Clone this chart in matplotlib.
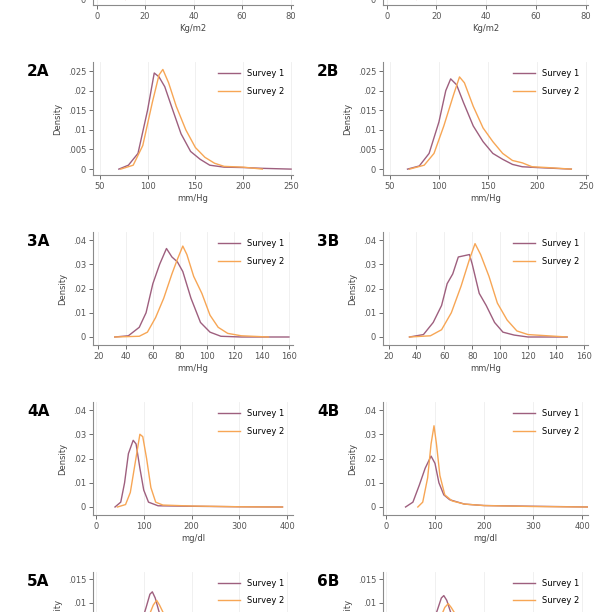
import matplotlib
matplotlib.use("Agg")
import matplotlib.pyplot as plt
from matplotlib.ticker import FixedLocator

C1 = "#9e5f7e"
C2 = "#f7a655"

panel_labels = [["1A", "1B"], ["2A", "2B"], ["3A", "3B"], ["4A", "4B"], ["5A", "6B"]]
xlabels = ["Kg/m2", "mm/Hg", "mm/Hg", "mg/dl", "mg/dl"]
xticks = [[0, 20, 40, 60, 80], [50, 100, 150, 200, 250], [20, 40, 60, 80, 100, 120, 140, 160],
          [0, 100, 200, 300, 400], [0, 100, 200, 300, 400]]
xlims = [(-1.5, 81), (43, 252), (16, 163), (-6, 412), (-6, 412)]
yticks = [[0, .02, .04, .06], [0, .005, .01, .015, .02, .025], [0, .01, .02, .03, .04],
          [0, .01, .02, .03, .04], [0, .005, .01, .015]]
yticklabels = [["0", ".02", ".04", ".06"], ["0", ".005", ".01", ".015", ".02", ".025"],
               ["0", ".01", ".02", ".03", ".04"], ["0", ".01", ".02", ".03", ".04"],
               ["0", ".005", ".01", ".015"]]
ylims = [(-0.004, 0.075), (-0.0015, 0.0273), (-0.0033, 0.0433), (-0.0033, 0.0433), (-0.0015, 0.0165)]

# density curves (x, y) per panel: [row][col] -> (survey1, survey2)
bmi_a1 = ([12, 16, 20, 24, 28, 34, 40, 50, 70], [0, .005, .04, .07, .055, .02, .005, .001, 0])
bmi_a2 = ([12, 17, 21, 25, 29, 35, 42, 52, 72], [0, .004, .035, .065, .056, .024, .006, .001, 0])
bmi_b1 = ([12, 16, 20, 24, 28, 34, 40, 50, 70], [0, .004, .035, .066, .056, .022, .006, .001, 0])
bmi_b2 = ([12, 17, 21, 25, 29, 35, 42, 52, 72], [0, .003, .03, .06, .058, .026, .007, .001, 0])

sbp_a1 = ([70, 80, 90, 100, 107, 112, 118, 125, 135, 145, 155, 165, 180, 200, 220, 250],
          [0, .001, .004, .015, .0245, .0235, .021, .016, .009, .0045, .0025, .001, .0005, .0004, .0002, 0])
sbp_a2 = ([72, 85, 95, 105, 112, 116, 122, 130, 140, 150, 160, 170, 180, 200, 220],
          [0, .001, .006, .017, .024, .0254, .022, .016, .01, .0055, .003, .0015, .0007, .0005, 0])
sbp_b1 = ([68, 80, 90, 100, 107, 112, 118, 125, 135, 145, 155, 165, 175, 185, 200, 235],
          [0, .0008, .004, .012, .02, .023, .0215, .017, .011, .007, .004, .0025, .0012, .0006, .0004, 0])
sbp_b2 = ([70, 85, 95, 105, 115, 121, 126, 135, 145, 155, 165, 175, 185, 195, 210, 235],
          [0, .001, .004, .011, .019, .0235, .022, .016, .0105, .007, .004, .0022, .0016, .0006, .0004, 0])

dbp_a1 = ([32, 42, 50, 55, 60, 65, 70, 74, 78, 82, 88, 95, 102, 110, 125, 160],
          [0, .0005, .004, .01, .022, .03, .0365, .033, .031, .027, .016, .006, .002, .0003, 0, 0])
dbp_a2 = ([32, 50, 56, 62, 68, 74, 78, 82, 85, 90, 96, 102, 108, 115, 125, 145],
          [0, .0003, .002, .008, .016, .026, .032, .0375, .034, .025, .018, .009, .004, .0015, .0005, 0])
dbp_b1 = ([35, 45, 52, 58, 62, 66, 70, 74, 78, 80, 85, 90, 96, 102, 110, 120, 148],
          [0, .001, .006, .013, .022, .026, .033, .0335, .034, .03, .018, .013, .006, .002, .0008, 0, 0])
dbp_b2 = ([35, 50, 58, 65, 72, 78, 82, 86, 92, 98, 105, 112, 120, 148],
          [0, .0005, .003, .01, .021, .032, .0385, .034, .025, .014, .007, .0025, .001, 0])

glu_a1 = ([40, 52, 60, 68, 78, 84, 92, 100, 110, 130, 200, 300, 390],
          [0, .002, .01, .022, .0275, .026, .016, .007, .002, .0005, .0003, .0001, 0])
glu_a2 = ([45, 62, 72, 82, 92, 98, 106, 115, 125, 140, 200, 300, 390],
          [0, .001, .006, .018, .03, .029, .02, .008, .002, .0008, .0004, .0001, 0])
glu_b1 = ([40, 55, 68, 80, 92, 100, 108, 118, 130, 160, 200, 300, 415],
          [0, .002, .009, .016, .021, .018, .01, .005, .003, .0012, .0006, .0003, 0])
glu_b2 = ([65, 75, 85, 92, 98, 103, 110, 120, 135, 160, 200, 300, 415],
          [0, .002, .012, .026, .0335, .026, .013, .005, .0025, .0012, .0006, .0002, 0])

r5_a1 = ([40, 70, 90, 105, 113, 118, 124, 135, 150, 180, 220, 300, 390],
         [0, .0008, .004, .009, .0118, .0123, .011, .007, .004, .0015, .0005, .0001, 0])
r5_a2 = ([45, 75, 95, 110, 120, 127, 133, 145, 160, 190, 230, 300, 390],
         [0, .0006, .003, .007, .0095, .0105, .0095, .007, .0045, .0018, .0006, .0001, 0])
r5_b1 = ([40, 70, 90, 105, 113, 118, 124, 135, 150, 180, 220, 300, 415],
         [0, .0008, .004, .0085, .011, .0115, .0105, .007, .004, .0015, .0005, .0001, 0])
r5_b2 = ([45, 75, 95, 110, 120, 127, 133, 145, 160, 190, 230, 300, 415],
         [0, .0006, .003, .0065, .009, .0098, .009, .007, .0045, .0018, .0006, .0001, 0])

curves = [[(bmi_a1, bmi_a2), (bmi_b1, bmi_b2)],
          [(sbp_a1, sbp_a2), (sbp_b1, sbp_b2)],
          [(dbp_a1, dbp_a2), (dbp_b1, dbp_b2)],
          [(glu_a1, glu_a2), (glu_b1, glu_b2)],
          [(r5_a1, r5_a2), (r5_b1, r5_b2)]]

W = H = 612
fig = plt.figure(figsize=(6.12, 6.12), dpi=100)
row_tops = [-108, 62, 232, 402, 572]
heights = [113, 113, 113, 113, 85]
col_lefts = [93, 383]
col_w = [200, 205]
gray = "#8a8a8a"

for r in range(5):
    for c in range(2):
        top = row_tops[r]
        h = heights[r]
        ax = fig.add_axes([col_lefts[c] / W, 1 - (top + h) / H, col_w[c] / W, h / H])
        s1, s2 = curves[r][c]
        ax.plot(s1[0], s1[1], color=C1, lw=1.0, label="Survey 1")
        ax.plot(s2[0], s2[1], color=C2, lw=1.0, label="Survey 2")
        ax.set_xlim(*xlims[r])
        ax.set_ylim(*ylims[r])
        ax.set_xticks(xticks[r])
        ax.set_yticks(yticks[r])
        ax.set_yticklabels(yticklabels[r])
        ax.grid(axis="x", color="#eeeeee", lw=0.6)
        ax.set_axisbelow(True)
        for s in ["top", "right"]:
            ax.spines[s].set_visible(False)
        for s in ["left", "bottom"]:
            ax.spines[s].set_color(gray)
            ax.spines[s].set_linewidth(0.8)
        ax.tick_params(labelsize=6, colors="#555555", length=3, width=0.6, pad=2)
        ax.tick_params(axis="y", labelrotation=0)
        ax.set_xlabel(xlabels[r], fontsize=6, color="#444444", labelpad=2)
        ax.set_ylabel("Density", fontsize=6, color="#444444", labelpad=4)
        ax.legend(loc="upper right", frameon=False, fontsize=6, handlelength=2.6,
                  labelspacing=1.0, bbox_to_anchor=(0.98, 0.98), borderaxespad=0.2)
        fig.text((col_lefts[c] - 66) / W, 1 - (top + 10) / H, panel_labels[r][c],
                 fontsize=11, fontweight="bold", va="center", ha="left")

fig.savefig("out.png", dpi=100, facecolor="white")
